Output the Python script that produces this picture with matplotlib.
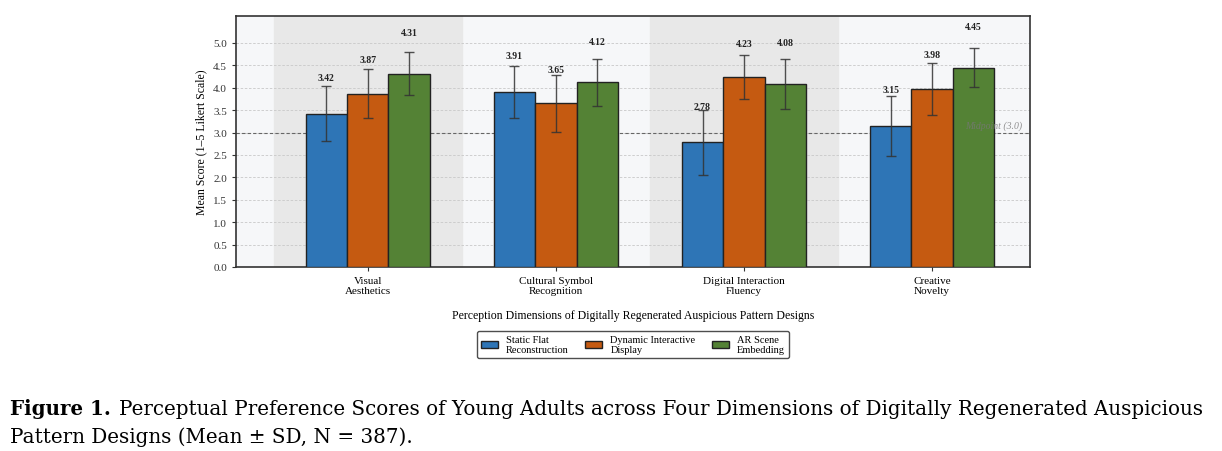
import matplotlib.pyplot as plt
import numpy as np

# data
dimensions = ["Visual\nAesthetics", "Cultural Symbol\nRecognition",
              "Digital Interaction\nFluency", "Creative\nNovelty"]
series_names = ["Static Flat\nReconstruction", "Dynamic Interactive\nDisplay", "AR Scene\nEmbedding"]
static_mean = [3.42, 3.91, 2.78, 3.15]
static_sd = [0.61, 0.58, 0.72, 0.67]
dynamic_mean = [3.87, 3.65, 4.23, 3.98]
dynamic_sd = [0.54, 0.63, 0.49, 0.58]
ar_mean = [4.31, 4.12, 4.08, 4.45]
ar_sd = [0.48, 0.52, 0.55, 0.43]

colors = ["#2e75b6", "#c55a11", "#548235"]
label_pad = [0.80, 0.76, 0.92]

plt.rcParams['font.family'] = ['Liberation Serif', 'DejaVu Serif']

fig = plt.figure(figsize=(12.22, 4.52), dpi=100)
ax = fig.add_axes([0.1931, 0.4071, 0.6498, 0.5553])
ax.set_facecolor("#f6f7f9")

x = np.arange(len(dimensions))
width = 0.22

# alternating bands behind groups
for i in x:
    if i % 2 == 0:
        ax.axvspan(i - 0.5, i + 0.5, color="#e8e8e8", zorder=0)

ax.yaxis.grid(True, linestyle=(0, (3, 2)), color="#c8c8c8", linewidth=0.6, zorder=1)
ax.set_axisbelow(True)

means = [static_mean, dynamic_mean, ar_mean]
sds = [static_sd, dynamic_sd, ar_sd]
for k in range(3):
    pos = x + (k - 1) * width
    ax.bar(pos, means[k], width, color=colors[k], edgecolor="#222222", linewidth=1.0,
           label=series_names[k], zorder=3)
    ax.errorbar(pos, means[k], yerr=sds[k], fmt="none", ecolor="#333333", elinewidth=1.0,
                capsize=3.5, capthick=1.0, alpha=0.85, zorder=4)
    for p, m in zip(pos, means[k]):
        ax.text(p, m + label_pad[k], f"{m:.2f}", ha="center", va="center",
                fontsize=7, fontweight="bold", color="#222222", zorder=5)

# midpoint reference
ax.axhline(3.0, color="#666666", linestyle=(0, (3, 2)), linewidth=0.8, zorder=2)
ax.text(3.48, 3.05, "Midpoint (3.0)", ha="right", va="bottom", fontsize=7,
        style="italic", color="#777777", alpha=0.8, zorder=6)

ax.set_xlim(-0.7, 3.52)
ax.set_ylim(0, 5.6)
ax.set_yticks(np.arange(0, 5.01, 0.5))
ax.set_yticklabels([f"{v:.1f}" for v in np.arange(0, 5.01, 0.5)], fontsize=8, color="#333333")
ax.set_xticks(x)
ax.set_xticklabels(dimensions, fontsize=8)
ax.tick_params(axis="both", length=3, color="#333333")
for s in ax.spines.values():
    s.set_color("#333333")
    s.set_linewidth(1.2)

ax.set_ylabel("Mean Score (1\u20135 Likert Scale)", fontsize=8.5)
ax.set_xlabel("Perception Dimensions of Digitally Regenerated Auspicious Pattern Designs",
              fontsize=8.5, labelpad=10)

leg = fig.legend(loc="upper center", bbox_to_anchor=(0.518, 0.278), ncol=3, fontsize=7.5,
                 frameon=True, edgecolor="#222222", fancybox=True, handlelength=1.6,
                 columnspacing=1.6)
leg.get_frame().set_linewidth(1.0)

# caption
fig.canvas.draw()
r = fig.canvas.get_renderer()
cap_font = ['DejaVu Serif']
t1 = fig.text(0.008, 0.082, "Figure 1.", fontsize=14.3, fontweight="bold", family=cap_font,
              ha="left", va="baseline")
bb = t1.get_window_extent(renderer=r)
fig.text((bb.x1 + 8) / fig.bbox.width, 0.082,
         "Perceptual Preference Scores of Young Adults across Four Dimensions of Digitally Regenerated Auspicious",
         fontsize=14.3, family=cap_font, ha="left", va="baseline")
fig.text(0.008, 0.020, "Pattern Designs (Mean \u00b1 SD, N = 387).", fontsize=14.3, family=cap_font,
         ha="left", va="baseline")

fig.savefig("out.png", dpi=100)
